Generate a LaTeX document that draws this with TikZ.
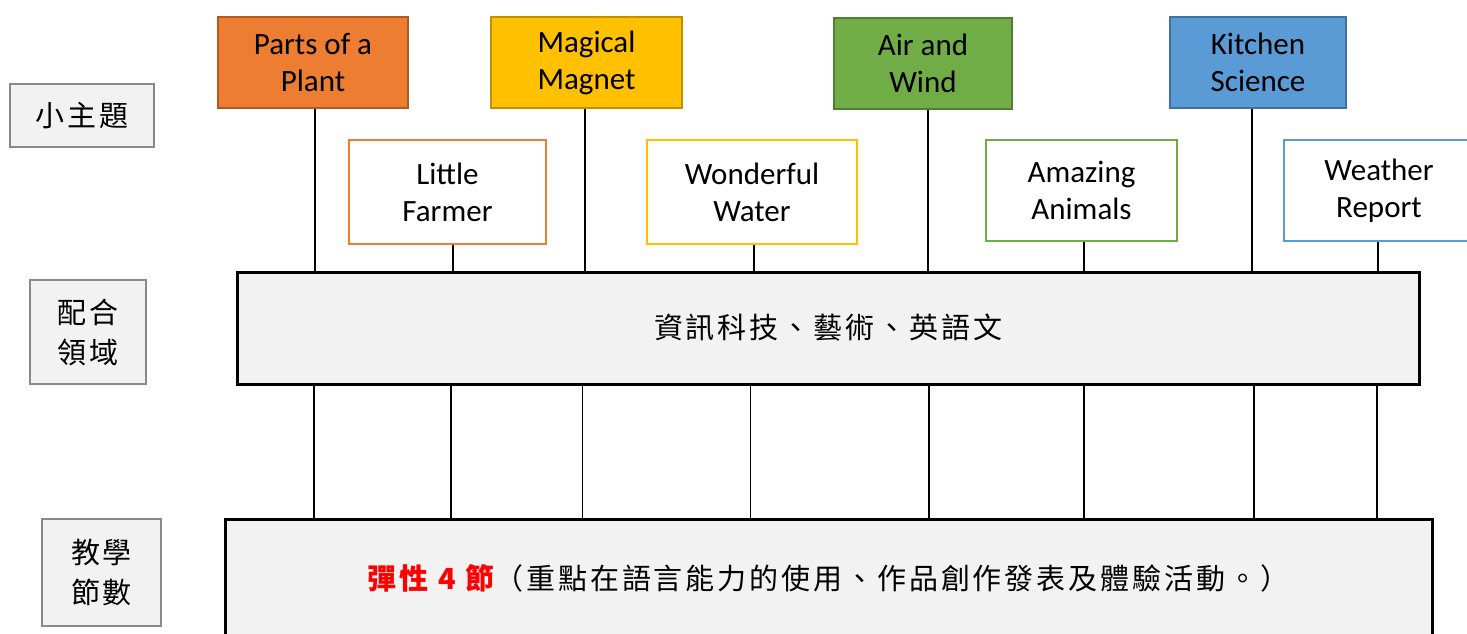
\documentclass[tikz,border=0pt]{standalone}
\usepackage{fontspec}
\setmainfont{Carlito}
\newfontfamily\cjk[LetterSpace=10]{Noto Sans CJK TC}
\usetikzlibrary{positioning}
\definecolor{plantorange}{HTML}{ED7D31}
\definecolor{plantedge}{HTML}{AE5A21}
\definecolor{magnetgold}{HTML}{FFC000}
\definecolor{magnetedge}{HTML}{BF9000}
\definecolor{windgreen}{HTML}{70AD47}
\definecolor{windedge}{HTML}{507E32}
\definecolor{kitchenblue}{HTML}{5B9BD5}
\definecolor{kitchenedge}{HTML}{41719C}
\definecolor{bandgray}{HTML}{F2F2F2}
\definecolor{labelgray}{HTML}{898989}

\begin{document}
\begin{tikzpicture}[x=0.5pt, y=-0.5pt,
				topic/.style = {rectangle, line width=1pt, align=center, inner sep=0pt, minimum height=45.5pt, font=\fontsize{15.5}{18.5}\selectfont},
				subtopic/.style = {rectangle, line width=1pt, fill=white, align=center, inner sep=0pt, font=\fontsize{15.5}{18.5}\selectfont},
				rowlabel/.style = {rectangle, draw=labelgray, line width=1.2pt, fill=bandgray, align=center, inner sep=0pt, font=\cjk\fontsize{14.5}{20}\selectfont},
				band/.style = {rectangle, draw, line width=1.5pt, fill=bandgray, inner sep=0pt, font=\cjk\fontsize{14.5}{20}\selectfont},
				link/.style = {line width=0.8pt},
			]
			\clip (0,0) rectangle (1467,633);

			% row labels
			\node[rowlabel, minimum width=72pt, minimum height=31.5pt](LabTopic) at (82,115.5){小主題};
			\node[rowlabel, minimum width=58pt, minimum height=52pt](LabField) at (88,332){配合\\領域};
			\node[rowlabel, minimum width=59.5pt, minimum height=53.5pt](LabHours) at (101.5,572.5){教學\\節數};

			% topics
			\node[topic, draw=plantedge, fill=plantorange, minimum width=95pt](Plant) at (313,62.5){Parts of a\\Plant};
			\node[topic, draw=magnetedge, fill=magnetgold, minimum width=95.5pt](Magnet) at (586.5,62.5){Magical\\Magnet};
			\node[topic, draw=windedge, fill=windgreen, minimum width=89pt](Wind) at (923,63){Air and\\Wind};
			\node[topic, draw=kitchenedge, fill=kitchenblue, minimum width=88pt](Kitchen) at (1258,62.5){Kitchen\\Science};

			\node[subtopic, draw=plantorange, minimum width=98.5pt, minimum height=52pt](Farmer) at (447.5,192){Little\\Farmer};
			\node[subtopic, draw=magnetgold, minimum width=105pt, minimum height=52pt](Water) at (752,192){Wonderful\\Water};
			\node[subtopic, draw=windgreen, minimum width=95.5pt, minimum height=50.5pt](Animals) at (1081.5,190.5){Amazing\\Animals};
			\node[subtopic, draw=kitchenblue, minimum width=95pt, minimum height=50.5pt](Weather) at (1379,190.5){Weather\\Report};

			% bands
			\node[band, minimum width=591pt, minimum height=56pt](Field) at (828,328){資訊科技、藝術、英語文};
			\node[band, minimum width=603.5pt, minimum height=59pt](Hours) at (828.5,578){{\color{red}\bfseries 彈性 4 節}（重點在語言能力的使用、作品創作發表及體驗活動。）};

			% links
			\draw[link]([xshift=1pt]Plant.south)--([xshift=1pt]Plant.south |- Field.north);
			\draw[link]([xshift=2.75pt]Farmer.south)--([xshift=2.75pt]Farmer.south |- Field.north);
			\draw[link]([xshift=-0.75pt]Magnet.south)--([xshift=-0.75pt]Magnet.south |- Field.north);
			\draw[link]([xshift=1pt]Water.south)--([xshift=1pt]Water.south |- Field.north);
			\draw[link]([xshift=2.5pt]Wind.south)--([xshift=2.5pt]Wind.south |- Field.north);
			\draw[link]([xshift=1.25pt]Animals.south)--([xshift=1.25pt]Animals.south |- Field.north);
			\draw[link]([xshift=-3pt]Kitchen.south)--([xshift=-3pt]Kitchen.south |- Field.north);
			\draw[link]([xshift=-0.5pt]Weather.south)--([xshift=-0.5pt]Weather.south |- Field.north);

			\draw[link]([xshift=0.5pt]Plant.south |- Field.south)--([xshift=0.5pt]Plant.south |- Hours.north);
			\draw[link]([xshift=1.75pt]Farmer.south |- Field.south)--([xshift=1.75pt]Farmer.south |- Hours.north);
			\draw[link]([xshift=-2pt]Magnet.south |- Field.south)--([xshift=-2pt]Magnet.south |- Hours.north);
			\draw[link]([xshift=-0.75pt]Water.south |- Field.south)--([xshift=-0.75pt]Water.south |- Hours.north);
			\draw[link]([xshift=3pt]Wind.south |- Field.south)--([xshift=3pt]Wind.south |- Hours.north);
			\draw[link]([xshift=1.25pt]Animals.south |- Field.south)--([xshift=1.25pt]Animals.south |- Hours.north);
			\draw[link]([xshift=-2pt]Kitchen.south |- Field.south)--([xshift=-2pt]Kitchen.south |- Hours.north);
			\draw[link]([xshift=-1pt]Weather.south |- Field.south)--([xshift=-1pt]Weather.south |- Hours.north);

		\end{tikzpicture}
\end{document}
